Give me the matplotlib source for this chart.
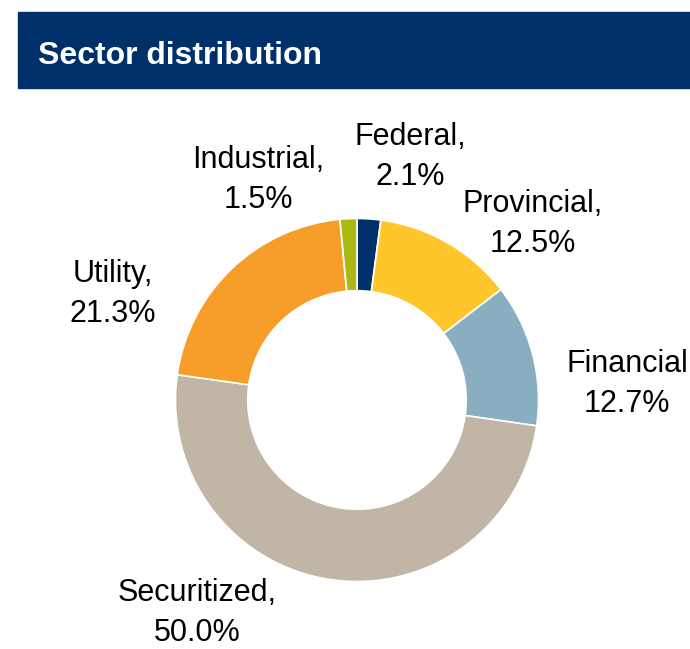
import matplotlib.pyplot as plt
from matplotlib.patches import Rectangle

plt.rcParams["font.family"] = ["Liberation Sans", "DejaVu Sans"]

sectors = ["Federal", "Provincial", "Financial", "Securitized", "Utility", "Industrial"]
shares = [2.1, 12.5, 12.7, 50.0, 21.3, 1.5]
colors = ["#00306A", "#FFC62C", "#89AEBF", "#C1B5A6", "#F79D2A", "#A9BA14"]

# label anchor: (x px, last-line baseline px), image coords from top-left
label_pos = {
    "Federal": (410, 185),
    "Provincial": (533, 252),
    "Financial": (627, 412),
    "Securitized": (197, 641),
    "Utility": (113, 322),
    "Industrial": (258, 208),
}

W, H = 690, 649
fig = plt.figure(figsize=(W / 100, H / 100), dpi=100)

# header bar
fig.patches.append(Rectangle((18 / W, 1 - 88 / H), 1, 76 / H,
                             transform=fig.transFigure, color="#00306A", zorder=0))
fig.text(38 / W, 1 - 64 / H, "Sector distribution", color="white",
         fontsize=23, fontweight="bold", va="baseline", ha="left")

# donut
cx, cy, r = 357, 400, 181.5
ax = fig.add_axes([(cx - r) / W, 1 - (cy + r) / H, 2 * r / W, 2 * r / H])
ax.pie(shares, colors=colors, startangle=90, counterclock=False, radius=1,
       wedgeprops=dict(width=0.398, edgecolor="white", linewidth=1.2))
ax.set_xlim(-1, 1)
ax.set_ylim(-1, 1)
ax.axis("off")

for name, val in zip(sectors, shares):
    x, y = label_pos[name]
    # the comma after "Financial" falls off the right edge in the original
    sep = "" if name == "Financial" else ","
    fig.text(x / W, 1 - y / H, f"{name}{sep}\n{val:.1f}%", fontsize=22,
             ha="center", va="baseline", multialignment="center",
             linespacing=1.43, color="black")

plt.savefig("out.png", dpi=100)
